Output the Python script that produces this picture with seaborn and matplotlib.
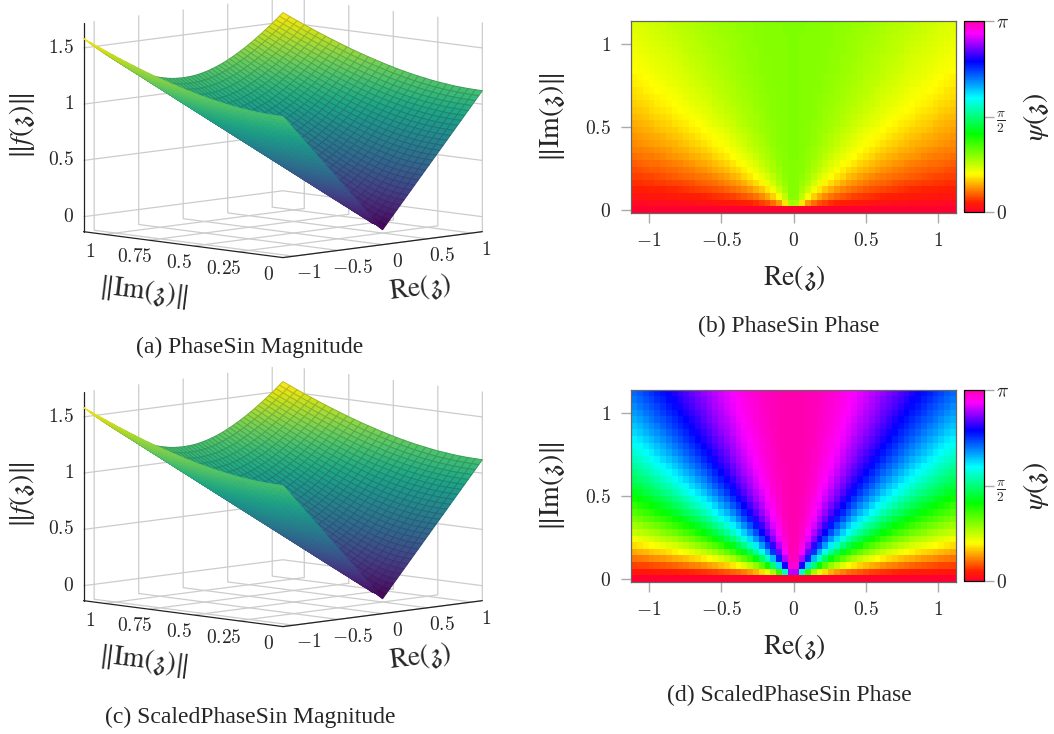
import numpy as np
import pandas as pd
import seaborn as sns
import matplotlib
matplotlib.use("Agg")
import matplotlib.pyplot as plt
from matplotlib.colors import LinearSegmentedColormap

# magnitude (a) and (c), in thousandths, rows Im = 0 .. 1.12, columns Re = 0 .. 1.12
magnitude_half = [
    [0, 40, 80, 120, 160, 200, 240, 280, 320, 360, 400, 440, 480, 520, 560, 600, 640, 680, 720, 760, 800, 840, 880, 920, 960, 1000, 1040, 1080, 1120],
    [40, 57, 89, 126, 165, 204, 243, 283, 322, 362, 402, 442, 482, 522, 561, 601, 641, 681, 721, 761, 801, 841, 881, 921, 961, 1001, 1041, 1081, 1121],
    [80, 89, 113, 144, 179, 215, 253, 291, 330, 369, 408, 447, 487, 526, 566, 605, 645, 685, 724, 764, 804, 844, 884, 923, 963, 1003, 1043, 1083, 1123],
    [120, 126, 144, 170, 200, 233, 268, 305, 342, 379, 418, 456, 495, 534, 573, 612, 651, 690, 730, 769, 809, 849, 888, 928, 967, 1007, 1047, 1087, 1126],
    [160, 165, 179, 200, 226, 256, 288, 322, 358, 394, 431, 468, 506, 544, 582, 621, 660, 698, 738, 777, 816, 855, 894, 934, 973, 1013, 1052, 1092, 1131],
    [200, 204, 215, 233, 256, 283, 312, 344, 377, 412, 447, 483, 520, 557, 595, 632, 671, 709, 747, 786, 825, 864, 902, 942, 981, 1020, 1059, 1098, 1138],
    [240, 243, 253, 268, 288, 312, 339, 369, 400, 433, 466, 501, 537, 573, 609, 646, 683, 721, 759, 797, 835, 874, 912, 951, 990, 1028, 1067, 1106, 1145],
    [280, 283, 291, 305, 322, 344, 369, 396, 425, 456, 488, 522, 556, 591, 626, 662, 698, 735, 772, 810, 848, 885, 923, 962, 1000, 1038, 1077, 1116, 1154],
    [320, 322, 330, 342, 358, 377, 400, 425, 453, 482, 512, 544, 577, 611, 645, 680, 716, 751, 788, 825, 862, 899, 936, 974, 1012, 1050, 1088, 1126, 1165],
    [360, 362, 369, 379, 394, 412, 433, 456, 482, 509, 538, 568, 600, 632, 666, 700, 734, 769, 805, 841, 877, 914, 951, 988, 1025, 1063, 1101, 1138, 1176],
    [400, 402, 408, 418, 431, 447, 466, 488, 512, 538, 566, 595, 625, 656, 688, 721, 755, 789, 824, 859, 894, 930, 967, 1003, 1040, 1077, 1114, 1152, 1189],
    [440, 442, 447, 456, 468, 483, 501, 522, 544, 568, 595, 622, 651, 681, 712, 744, 777, 810, 844, 878, 913, 948, 984, 1020, 1056, 1092, 1129, 1166, 1203],
    [480, 482, 487, 495, 506, 520, 537, 556, 577, 600, 625, 651, 679, 708, 738, 768, 800, 832, 865, 899, 933, 967, 1002, 1038, 1073, 1109, 1145, 1182, 1218],
    [520, 522, 526, 534, 544, 557, 573, 591, 611, 632, 656, 681, 708, 735, 764, 794, 825, 856, 888, 921, 954, 988, 1022, 1057, 1092, 1127, 1163, 1199, 1235],
    [560, 561, 566, 573, 582, 595, 609, 626, 645, 666, 688, 712, 738, 764, 792, 821, 850, 881, 912, 944, 977, 1010, 1043, 1077, 1111, 1146, 1181, 1217, 1252],
    [600, 601, 605, 612, 621, 632, 646, 662, 680, 700, 721, 744, 768, 794, 821, 849, 877, 907, 937, 968, 1000, 1032, 1065, 1098, 1132, 1166, 1201, 1235, 1271],
    [640, 641, 645, 651, 660, 671, 683, 698, 716, 734, 755, 777, 800, 825, 850, 877, 905, 934, 963, 994, 1024, 1056, 1088, 1121, 1154, 1187, 1221, 1255, 1290],
    [680, 681, 685, 690, 698, 709, 721, 735, 751, 769, 789, 810, 832, 856, 881, 907, 934, 962, 990, 1020, 1050, 1081, 1112, 1144, 1176, 1209, 1243, 1276, 1310],
    [720, 721, 724, 730, 738, 747, 759, 772, 788, 805, 824, 844, 865, 888, 912, 937, 963, 990, 1018, 1047, 1076, 1106, 1137, 1168, 1200, 1232, 1265, 1298, 1331],
    [760, 761, 764, 769, 777, 786, 797, 810, 825, 841, 859, 878, 899, 921, 944, 968, 994, 1020, 1047, 1075, 1103, 1133, 1163, 1193, 1224, 1256, 1288, 1321, 1353],
    [800, 801, 804, 809, 816, 825, 835, 848, 862, 877, 894, 913, 933, 954, 977, 1000, 1024, 1050, 1076, 1103, 1131, 1160, 1189, 1219, 1250, 1281, 1312, 1344, 1376],
    [840, 841, 844, 849, 855, 864, 874, 885, 899, 914, 930, 948, 967, 988, 1010, 1032, 1056, 1081, 1106, 1133, 1160, 1188, 1217, 1246, 1276, 1306, 1337, 1368, 1400],
    [880, 881, 884, 888, 894, 902, 912, 923, 936, 951, 967, 984, 1002, 1022, 1043, 1065, 1088, 1112, 1137, 1163, 1189, 1217, 1245, 1273, 1302, 1332, 1362, 1393, 1424],
    [920, 921, 923, 928, 934, 942, 951, 962, 974, 988, 1003, 1020, 1038, 1057, 1077, 1098, 1121, 1144, 1168, 1193, 1219, 1246, 1273, 1301, 1330, 1359, 1388, 1419, 1449],
    [960, 961, 963, 967, 973, 981, 990, 1000, 1012, 1025, 1040, 1056, 1073, 1092, 1111, 1132, 1154, 1176, 1200, 1224, 1250, 1276, 1302, 1330, 1358, 1386, 1415, 1445, 1475],
    [1000, 1001, 1003, 1007, 1013, 1020, 1028, 1038, 1050, 1063, 1077, 1092, 1109, 1127, 1146, 1166, 1187, 1209, 1232, 1256, 1281, 1306, 1332, 1359, 1386, 1414, 1443, 1472, 1501],
    [1040, 1041, 1043, 1047, 1052, 1059, 1067, 1077, 1088, 1101, 1114, 1129, 1145, 1163, 1181, 1201, 1221, 1243, 1265, 1288, 1312, 1337, 1362, 1388, 1415, 1443, 1471, 1499, 1528],
    [1080, 1081, 1083, 1087, 1092, 1098, 1106, 1116, 1126, 1138, 1152, 1166, 1182, 1199, 1217, 1235, 1255, 1276, 1298, 1321, 1344, 1368, 1393, 1419, 1445, 1472, 1499, 1527, 1556],
    [1120, 1121, 1123, 1126, 1131, 1138, 1145, 1154, 1165, 1176, 1189, 1203, 1218, 1235, 1252, 1271, 1290, 1310, 1331, 1353, 1376, 1400, 1424, 1449, 1475, 1501, 1528, 1556, 1584],
]

# phase of panel (b), thousandths of pi, rows Im = 1.12 .. 0, columns Re = -1.10 .. -0.02
phase_sin_half = [
    [229, 232, 236, 240, 243, 246, 250, 254, 258, 262, 265, 269, 272, 276, 279, 282, 286, 288, 291, 294, 296, 298, 300, 302, 303, 304, 305, 305],
    [225, 229, 233, 237, 241, 244, 248, 252, 256, 259, 263, 267, 271, 274, 278, 282, 285, 288, 291, 294, 296, 298, 300, 301, 303, 304, 305, 305],
    [221, 225, 229, 233, 237, 240, 244, 248, 252, 256, 260, 264, 268, 272, 276, 279, 283, 286, 289, 292, 295, 297, 299, 301, 303, 304, 304, 305],
    [217, 221, 225, 229, 233, 237, 241, 245, 249, 253, 257, 261, 266, 270, 274, 277, 281, 285, 288, 291, 294, 297, 299, 301, 303, 304, 304, 305],
    [213, 217, 221, 225, 229, 233, 237, 241, 246, 250, 254, 258, 263, 267, 271, 275, 279, 283, 287, 291, 294, 296, 299, 301, 302, 304, 304, 305],
    [209, 213, 217, 220, 224, 229, 233, 238, 242, 246, 251, 255, 260, 265, 269, 273, 278, 282, 286, 289, 293, 296, 298, 300, 302, 304, 304, 305],
    [205, 208, 212, 216, 220, 225, 229, 233, 238, 243, 247, 252, 257, 262, 266, 271, 276, 280, 284, 288, 291, 295, 298, 300, 302, 304, 304, 305],
    [200, 204, 208, 212, 216, 220, 225, 229, 234, 239, 244, 248, 253, 259, 263, 268, 273, 278, 283, 287, 290, 294, 297, 299, 301, 303, 304, 305],
    [195, 199, 203, 207, 211, 215, 220, 224, 229, 234, 240, 244, 250, 255, 260, 265, 270, 275, 280, 285, 289, 292, 296, 299, 301, 303, 304, 305],
    [189, 194, 197, 202, 206, 210, 215, 220, 225, 229, 235, 240, 246, 251, 256, 261, 267, 272, 278, 282, 287, 291, 295, 298, 301, 303, 304, 305],
    [183, 187, 192, 196, 200, 205, 209, 214, 219, 224, 229, 235, 241, 246, 252, 258, 264, 269, 275, 280, 285, 290, 294, 297, 300, 303, 304, 305],
    [177, 181, 186, 190, 194, 199, 204, 209, 214, 219, 224, 230, 236, 242, 247, 254, 260, 266, 272, 278, 283, 288, 292, 296, 299, 302, 304, 305],
    [170, 174, 179, 183, 188, 193, 198, 203, 208, 213, 219, 224, 230, 236, 243, 249, 255, 262, 268, 274, 280, 286, 291, 295, 299, 302, 304, 305],
    [163, 167, 171, 176, 181, 186, 191, 196, 201, 207, 212, 218, 224, 230, 237, 243, 250, 257, 264, 271, 277, 284, 289, 294, 298, 301, 304, 305],
    [156, 160, 164, 168, 173, 178, 183, 188, 193, 199, 205, 210, 217, 224, 230, 237, 245, 252, 259, 267, 274, 281, 287, 293, 297, 301, 303, 305],
    [148, 152, 156, 160, 165, 169, 174, 180, 185, 191, 197, 203, 209, 216, 224, 231, 239, 246, 254, 262, 270, 278, 285, 291, 296, 300, 303, 305],
    [140, 144, 148, 152, 157, 161, 166, 171, 177, 182, 189, 195, 201, 208, 214, 222, 230, 239, 247, 256, 265, 274, 282, 288, 295, 299, 303, 305],
    [131, 135, 139, 143, 148, 152, 157, 162, 167, 173, 178, 185, 192, 199, 206, 214, 222, 231, 241, 249, 258, 269, 277, 286, 293, 298, 302, 305],
    [122, 126, 130, 133, 137, 142, 147, 152, 157, 162, 168, 174, 181, 189, 197, 205, 213, 222, 232, 242, 252, 263, 272, 282, 290, 297, 302, 305],
    [114, 117, 120, 124, 127, 131, 136, 141, 146, 151, 157, 163, 170, 177, 185, 193, 202, 211, 222, 232, 244, 255, 267, 277, 287, 295, 301, 305],
    [104, 107, 110, 113, 116, 121, 125, 129, 134, 139, 145, 151, 158, 164, 172, 181, 190, 200, 209, 221, 233, 246, 259, 271, 283, 293, 300, 305],
    [93, 95, 99, 102, 105, 109, 113, 117, 121, 126, 131, 137, 144, 151, 158, 166, 175, 185, 196, 207, 220, 234, 249, 263, 277, 290, 299, 304],
    [82, 85, 88, 91, 93, 97, 100, 104, 108, 112, 117, 122, 128, 134, 142, 150, 159, 168, 179, 191, 205, 219, 235, 252, 270, 285, 297, 304],
    [71, 73, 75, 78, 81, 84, 87, 91, 94, 98, 102, 107, 112, 117, 124, 131, 140, 149, 159, 172, 185, 201, 217, 237, 257, 278, 295, 304],
    [59, 60, 63, 65, 67, 69, 72, 75, 78, 81, 85, 90, 94, 99, 105, 112, 119, 127, 136, 148, 161, 176, 195, 215, 240, 266, 288, 303],
    [46, 48, 49, 51, 53, 54, 56, 58, 61, 64, 67, 71, 75, 79, 84, 89, 94, 102, 110, 120, 131, 146, 163, 185, 211, 244, 277, 301],
    [33, 34, 35, 37, 38, 39, 41, 42, 44, 45, 48, 50, 53, 56, 60, 64, 68, 73, 80, 87, 97, 108, 123, 142, 168, 205, 252, 297],
    [18, 18, 19, 20, 21, 21, 22, 23, 24, 25, 26, 28, 29, 31, 33, 36, 38, 41, 45, 49, 54, 62, 71, 84, 102, 131, 185, 277],
    [0] * 28,
]

# phase of panel (d), same layout
scaled_phase_half = [
    [713, 726, 739, 753, 766, 779, 793, 807, 821, 834, 848, 862, 875, 888, 901, 913, 925, 936, 947, 957, 966, 974, 981, 987, 992, 996, 999, 1000],
    [701, 714, 727, 741, 754, 768, 782, 796, 811, 825, 839, 853, 867, 881, 894, 908, 920, 932, 943, 954, 964, 972, 980, 986, 992, 996, 999, 1000],
    [687, 700, 714, 728, 742, 756, 771, 785, 800, 815, 830, 844, 859, 873, 888, 901, 915, 927, 939, 951, 961, 970, 978, 985, 991, 995, 998, 1000],
    [673, 686, 700, 714, 729, 743, 758, 773, 788, 804, 819, 835, 850, 865, 880, 894, 908, 922, 935, 947, 958, 968, 977, 984, 990, 995, 998, 1000],
    [658, 671, 685, 700, 715, 730, 745, 760, 776, 792, 808, 824, 840, 856, 872, 887, 902, 916, 930, 943, 954, 965, 975, 983, 989, 995, 998, 1000],
    [642, 655, 670, 684, 699, 715, 731, 747, 763, 779, 796, 813, 829, 846, 862, 879, 894, 910, 924, 938, 951, 962, 973, 981, 989, 994, 998, 1000],
    [625, 639, 653, 668, 683, 699, 715, 732, 748, 765, 783, 800, 817, 835, 852, 869, 886, 903, 918, 933, 946, 959, 970, 980, 988, 994, 998, 1000],
    [607, 621, 636, 651, 666, 682, 699, 716, 733, 750, 768, 786, 805, 823, 841, 859, 877, 894, 911, 927, 942, 955, 967, 978, 986, 993, 997, 1000],
    [588, 602, 617, 632, 648, 664, 681, 698, 716, 734, 753, 771, 790, 810, 829, 848, 867, 885, 903, 920, 936, 951, 964, 976, 985, 992, 997, 1000],
    [568, 583, 597, 613, 629, 645, 662, 680, 698, 716, 736, 755, 775, 795, 815, 835, 855, 875, 894, 913, 930, 946, 961, 973, 983, 991, 997, 1000],
    [548, 562, 577, 592, 608, 625, 642, 660, 678, 697, 717, 737, 758, 779, 800, 821, 843, 864, 884, 904, 923, 941, 956, 970, 982, 990, 997, 1000],
    [526, 540, 555, 570, 586, 603, 620, 638, 657, 677, 697, 718, 739, 761, 783, 806, 828, 851, 873, 894, 915, 934, 951, 967, 979, 989, 996, 1000],
    [503, 517, 531, 547, 563, 580, 597, 615, 634, 654, 675, 696, 718, 741, 764, 788, 812, 836, 860, 883, 905, 926, 946, 963, 977, 988, 996, 1000],
    [479, 493, 507, 522, 538, 555, 572, 591, 610, 630, 651, 673, 695, 719, 743, 768, 794, 819, 845, 870, 894, 917, 939, 958, 974, 986, 995, 999],
    [454, 467, 481, 496, 512, 528, 546, 564, 583, 603, 625, 647, 670, 695, 720, 746, 773, 800, 827, 855, 881, 907, 931, 952, 970, 984, 994, 999],
    [427, 440, 454, 469, 484, 500, 517, 536, 555, 575, 596, 619, 643, 668, 694, 721, 749, 778, 807, 837, 866, 894, 921, 945, 966, 982, 993, 999],
    [400, 413, 426, 440, 455, 471, 487, 505, 524, 544, 566, 588, 612, 638, 664, 693, 722, 753, 784, 816, 848, 879, 909, 936, 960, 979, 992, 999],
    [371, 383, 396, 410, 424, 439, 455, 473, 491, 511, 532, 555, 579, 604, 632, 661, 691, 723, 757, 791, 826, 861, 894, 926, 953, 975, 991, 999],
    [342, 353, 365, 378, 392, 406, 422, 438, 456, 476, 496, 518, 542, 568, 595, 625, 656, 690, 725, 762, 800, 839, 876, 912, 944, 970, 989, 999],
    [311, 322, 333, 345, 358, 371, 386, 402, 419, 437, 457, 479, 502, 527, 555, 584, 616, 651, 688, 727, 768, 811, 853, 894, 932, 964, 986, 998],
    [279, 289, 299, 310, 322, 335, 349, 364, 380, 397, 416, 436, 459, 483, 510, 539, 571, 606, 644, 685, 730, 776, 824, 872, 916, 955, 983, 998],
    [247, 255, 265, 275, 285, 297, 310, 323, 338, 354, 371, 391, 412, 435, 460, 489, 520, 555, 593, 636, 682, 733, 786, 841, 894, 941, 978, 997],
    [213, 221, 229, 238, 247, 258, 269, 281, 294, 308, 324, 342, 361, 382, 406, 433, 463, 496, 534, 577, 625, 678, 737, 800, 864, 923, 970, 996],
    [179, 185, 192, 200, 208, 217, 227, 237, 248, 261, 275, 290, 307, 326, 347, 371, 399, 430, 466, 507, 555, 610, 673, 743, 819, 894, 958, 995],
    [144, 149, 155, 161, 168, 175, 183, 192, 201, 211, 223, 236, 250, 266, 284, 305, 329, 356, 388, 426, 471, 524, 588, 664, 753, 848, 936, 992],
    [108, 112, 117, 122, 127, 132, 138, 145, 152, 160, 169, 179, 190, 203, 217, 233, 252, 275, 301, 333, 371, 419, 479, 555, 651, 768, 894, 986],
    [73, 75, 78, 81, 85, 89, 93, 97, 102, 107, 114, 120, 128, 137, 147, 158, 171, 187, 206, 229, 258, 294, 342, 406, 496, 625, 800, 970],
    [36, 38, 39, 41, 43, 44, 46, 49, 51, 54, 57, 60, 64, 69, 74, 80, 87, 95, 105, 117, 132, 152, 179, 217, 275, 371, 555, 894],
    [0] * 28,
]

re_ticks = [-1, -0.5, 0, 0.5, 1]
im_ticks_surface = [0, 0.25, 0.5, 0.75, 1]
im_ticks_phase = [0, 0.5, 1]
mag_ticks = [0, 0.5, 1, 1.5]
captions = ["(a) PhaseSin Magnitude", "(b) PhaseSin Phase",
            "(c) ScaledPhaseSin Magnitude", "(d) ScaledPhaseSin Phase"]

W, H = 1054, 734
PANEL_DY = 369
TICK_FS = 14

sns.set_theme(style="white")
plt.rcParams["mathtext.fontset"] = "cm"
plt.rcParams["mathtext.default"] = "rm"
plt.rcParams["font.family"] = ["Liberation Serif", "DejaVu Serif"]

phase_cmap = LinearSegmentedColormap.from_list("phase", [
    (0.0, "#ff0030"), (0.05, "#ff2000"), (0.2, "#ffff00"), (0.41, "#00ff00"),
    (0.6, "#00ffff"), (0.79, "#0000ff"), (0.94, "#ff00ff"), (1.0, "#ff00b0")])

fig = plt.figure(figsize=(W / 100, H / 100), dpi=100)
fig.patch.set_facecolor("white")


def fig_text(px, py, s, **kw):
    return fig.text(px / W, 1 - py / H, s, ha="center", va="center", **kw)


def math_list(vals):
    return ["$%g$" % v for v in vals]


def draw_surface(dy):
    side = 438
    left, bottom = 58, 352 + dy
    ax = fig.add_axes([left / W, 1 - bottom / H, side / W, side / H], projection="3d",
                      proj_type="ortho")
    ax.patch.set_alpha(0)
    ax.view_init(elev=7.47, azim=-135)
    ax.set_box_aspect((1, 1, 0.748))

    half = np.array(magnitude_half) / 1000
    mag = np.hstack([half[:, :0:-1], half])
    re = np.linspace(-1.12, 1.12, mag.shape[1])
    im = np.linspace(0, 1.12, mag.shape[0])
    X, Y = np.meshgrid(re, im)

    # face colours by mean height, grid lines fade out where the sheet turns edge-on
    face_z = (mag[:-1, :-1] + mag[1:, :-1] + mag[:-1, 1:] + mag[1:, 1:]) / 4
    cmap = sns.color_palette("viridis", as_cmap=True)
    faces = cmap(face_z / 1.58)
    face_re = (X[:-1, :-1] + X[1:, 1:]) / 2
    face_im = (Y[:-1, :-1] + Y[1:, 1:]) / 2
    fade = np.where(face_re < 0, np.clip((face_im + face_re) / 0.3, 0, 1), 1.0)
    strength = (0.03 + 0.17 * fade)[..., None]
    edges = faces.copy()
    edges[..., :3] = faces[..., :3] * (1 - strength) + 0.08 * strength

    surf = ax.plot_surface(X, Y, mag, facecolors=faces, rstride=1, cstride=1,
                           shade=False, linewidth=0.7)
    surf.set_edgecolor(edges.reshape(-1, 4))

    ax.set_xlim(-1.12, 1.12, view_margin=0)
    ax.set_ylim(0, 1.12, view_margin=0)
    ax.set_zlim(-0.133, 1.726, view_margin=0)
    ax.set_xticks(re_ticks, math_list(re_ticks))
    ax.set_yticks(im_ticks_surface, math_list(im_ticks_surface))
    ax.set_zticks(mag_ticks, math_list(mag_ticks))
    for axis in (ax.xaxis, ax.yaxis, ax.zaxis):
        axis.set_pane_color((1, 1, 1, 0))
        axis.pane.set_edgecolor((1, 1, 1, 0))
        axis.line.set_color("#222222")
        axis.line.set_linewidth(0.9)
        axis._axinfo["grid"].update(color="#cccccc", linewidth=0.9)
        axis._axinfo["tick"].update(inward_factor=0, outward_factor=0)
    ax.tick_params(labelsize=TICK_FS, pad=4)
    ax.tick_params(axis="z", pad=-4)
    for lab in ax.get_xticklabels() + ax.get_yticklabels() + ax.get_zticklabels():
        lab.set_va("center")
    for lab in ax.get_zticklabels():
        lab.set_ha("right")
    return ax


def draw_phase(half_rows, dy):
    pos_top, pos_bot = 20.7 + dy, 213 + dy
    ax = fig.add_axes([631.3 / W, 1 - pos_bot / H, 324.4 / W, (pos_bot - pos_top) / H])
    cax = fig.add_axes([964.3 / W, 1 - (pos_bot - 0.7) / H, 19.4 / W, (pos_bot - pos_top - 1.4) / H])

    half = np.array(half_rows) / 1000 * np.pi
    psi = np.hstack([half, half[:, ::-1]])
    re_centers = np.round(np.linspace(-1.10, 1.10, psi.shape[1]), 2)
    im_centers = np.round(np.linspace(1.12, 0, psi.shape[0]), 2)
    df = pd.DataFrame(psi, index=im_centers, columns=re_centers)
    sns.heatmap(df, ax=ax, cbar_ax=cax, cmap=phase_cmap, vmin=0, vmax=np.pi,
                xticklabels=False, yticklabels=False)

    ax.set_xticks([(v + 1.12) / 0.04 for v in re_ticks])
    ax.set_xticklabels(math_list(re_ticks), rotation=0)
    ax.set_yticks([(1.14 - v) / 0.04 for v in im_ticks_phase])
    ax.set_yticklabels(math_list(im_ticks_phase), rotation=0)
    ax.tick_params(axis="x", bottom=True, length=7.2, width=1, color="#aaaaaa", pad=6.5, labelsize=TICK_FS)
    ax.tick_params(axis="y", left=True, length=7.2, width=1, color="#aaaaaa", pad=7.5, labelsize=TICK_FS)
    ax.set_xlabel("")
    ax.set_ylabel("")
    for sp in ax.spines.values():
        sp.set_visible(True)
        sp.set_color("#666666")
        sp.set_linewidth(0.9)

    cbar = ax.collections[0].colorbar
    cbar.set_ticks([0, np.pi / 2, np.pi], labels=["$0$", r"$\frac{\pi}{2}$", r"$\pi$"])
    cbar.ax.tick_params(length=7.2, width=1, color="#aaaaaa", pad=1.5, labelsize=TICK_FS, right=True)
    cbar.outline.set_visible(True)
    cbar.outline.set_edgecolor("black")
    cbar.outline.set_linewidth(0.9)
    return ax


LABEL_KW = dict(fontsize=20, math_fontfamily="stix")
mag_label = r"$\|\mathit{f}(\mathfrak{z})\|$"
im_label = r"$\|\mathrm{Im}(\mathfrak{z})\|$"
re_label = r"$\mathrm{Re}(\mathfrak{z})$"
psi_label = r"$\mathit{\psi}(\mathfrak{z})$"

for dy, cap_l, cap_r, rows, cap_ly, cap_ry in [
    (0, captions[0], captions[1], phase_sin_half, 347, 326),
    (PANEL_DY, captions[2], captions[3], scaled_phase_half, 717, 695),
]:
    draw_surface(dy)
    draw_phase(rows, dy)
    fig_text(22, 126 + dy, mag_label, rotation=90, **LABEL_KW)
    fig_text(143, 292 + dy, im_label, rotation=-7, **LABEL_KW)
    fig_text(420, 288 + dy, re_label, rotation=7, **LABEL_KW)
    fig_text(552, 117 + dy, im_label, rotation=90, **LABEL_KW)
    fig_text(794, 278 + dy, re_label, **LABEL_KW)
    fig_text(1036, 117 + dy, psi_label, rotation=90, **LABEL_KW)
    fig_text(250, cap_ly, cap_l, fontsize=17)
    fig_text(789, cap_ry, cap_r, fontsize=17)

fig.savefig("out.png", dpi=100, facecolor="white")
